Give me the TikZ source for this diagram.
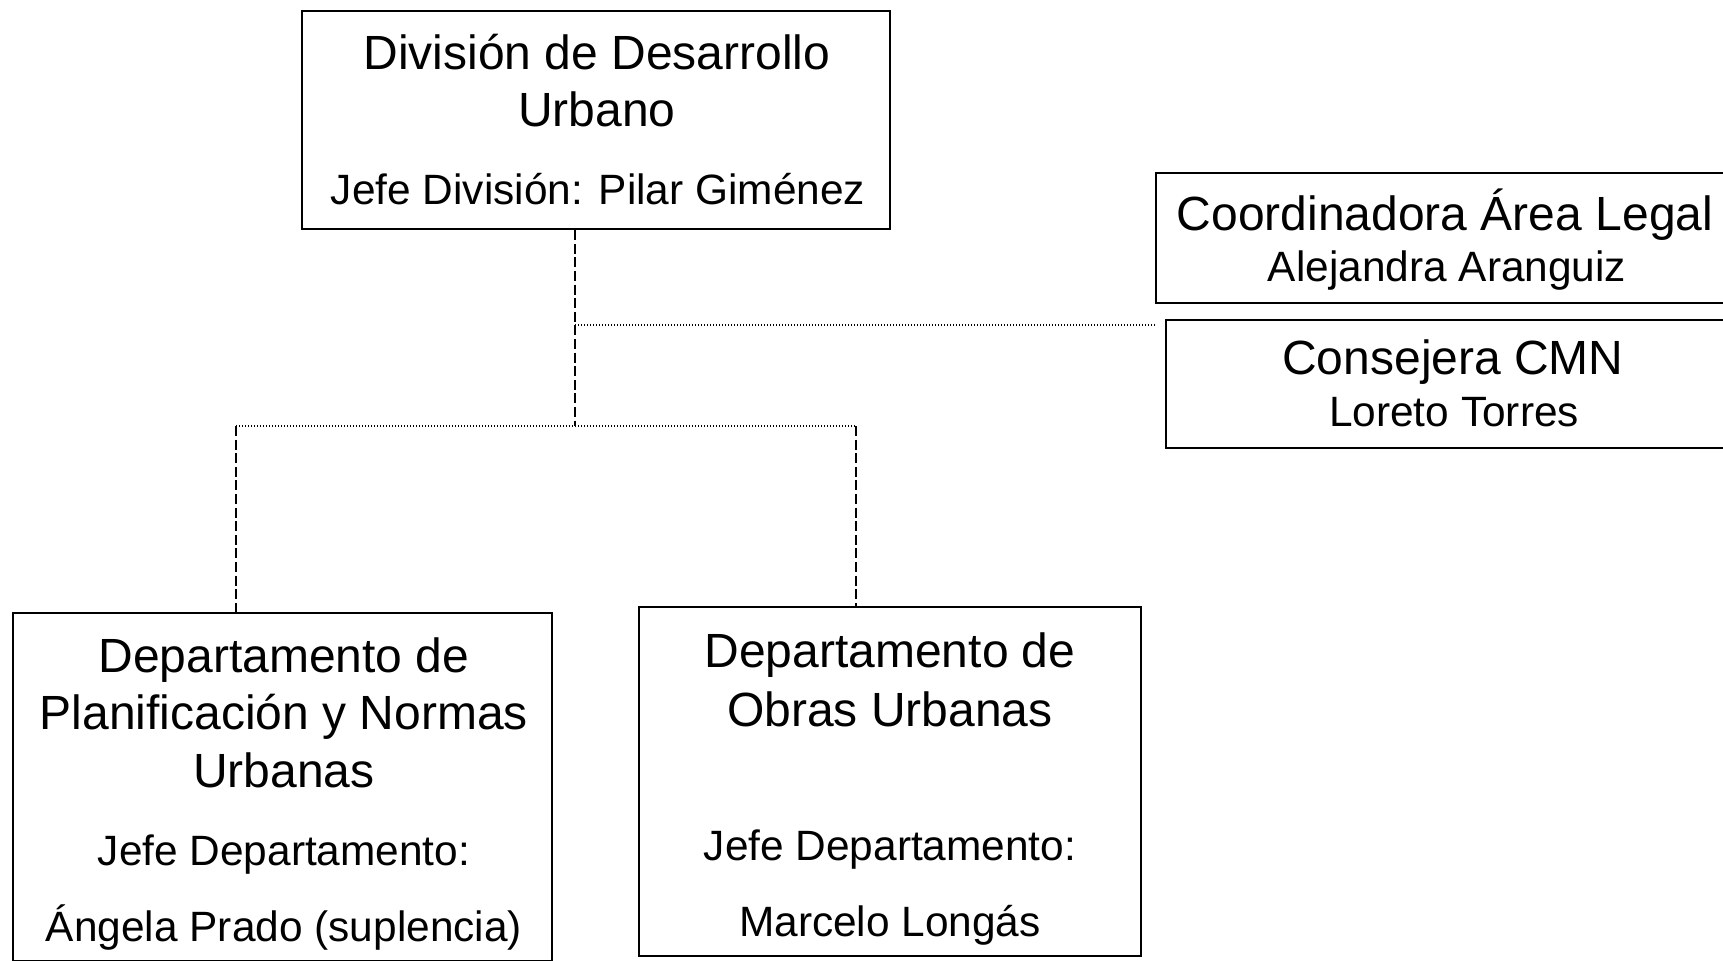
\documentclass[tikz,border=0pt]{standalone}
\usepackage{fontspec}
\setmainfont{Liberation Sans}
\usetikzlibrary{positioning,calc}

\tikzset{
  unitbox/.style={draw,line width=1.3pt,inner sep=0pt},
  head/.style={anchor=base,inner sep=0pt,font=\fontsize{24}{28}\selectfont},
  sub/.style={anchor=base,inner sep=0pt,font=\fontsize{21.2}{25}\selectfont},
  vline/.style={line width=1.1pt,dash pattern=on 5pt off 1.8pt},
  hline/.style={line width=1.1pt,dash pattern=on 0.7pt off 0.8pt},
}

\begin{document}
\begin{tikzpicture}[x=0.5pt,y=-0.5pt]
\useasboundingbox (0,0) rectangle (1723,961);

% Boxes
\node[unitbox,minimum width=294pt,minimum height=109pt] (div) at (596,120) {};
\node[unitbox,minimum width=289pt,minimum height=65pt] (legal) at (1445,238) {};
\node[unitbox,minimum width=287pt,minimum height=64pt] (cmn) at (1453,384) {};
\node[unitbox,minimum width=269.5pt,minimum height=174pt] (plan) at (282.5,787) {};
\node[unitbox,minimum width=251pt,minimum height=174.5pt] (obras) at (890,781.5) {};

% Texts
\node[head] (div-t1) at (597,70) {División de Desarrollo};
\node[head] (div-t2) at (597,127) {Urbano};
\node[sub] (div-boss) at (598,205) {Jefe División: Pilar Giménez};

\node[head] (legal-t) at (1445,231) {Coordinadora Área Legal};
\node[sub] (legal-name) at (1447,282) {Alejandra Aranguiz};
\node[head] (cmn-t) at (1453,375) {Consejera CMN};
\node[sub] (cmn-name) at (1454,427) {Loreto Torres};

\node[head] (plan-t1) at (284,673) {Departamento de};
\node[head] (plan-t2) at (284,729) {Planificación y Normas};
\node[head] (plan-t3) at (284,787) {Urbanas};
\node[sub] (plan-boss) at (284,865) {Jefe Departamento:};
\node[sub] (plan-name) at (284,941) {Ángela Prado (suplencia)};

\node[head] (obras-t1) at (890,668) {Departamento de};
\node[head] (obras-t2) at (890,726) {Obras Urbanas};
\node[sub] (obras-boss) at (890,860) {Jefe Departamento:};
\node[sub] (obras-name) at (890,936) {Marcelo Longás};

% Connectors
\coordinate (hub) at (575,426);
\coordinate (tap) at (575,325);
\coordinate (lhub) at (236,426);
\coordinate (rhub) at (856,426);

\draw[vline] (hub |- div.south) -- (hub);
\draw[hline] (tap) -- (tap -| legal.west);
\draw[hline] (lhub) -- (rhub);
\draw[vline] (lhub) -- (lhub |- plan.north);
\draw[vline] (rhub) -- (rhub |- obras.north);
\end{tikzpicture}
\end{document}
